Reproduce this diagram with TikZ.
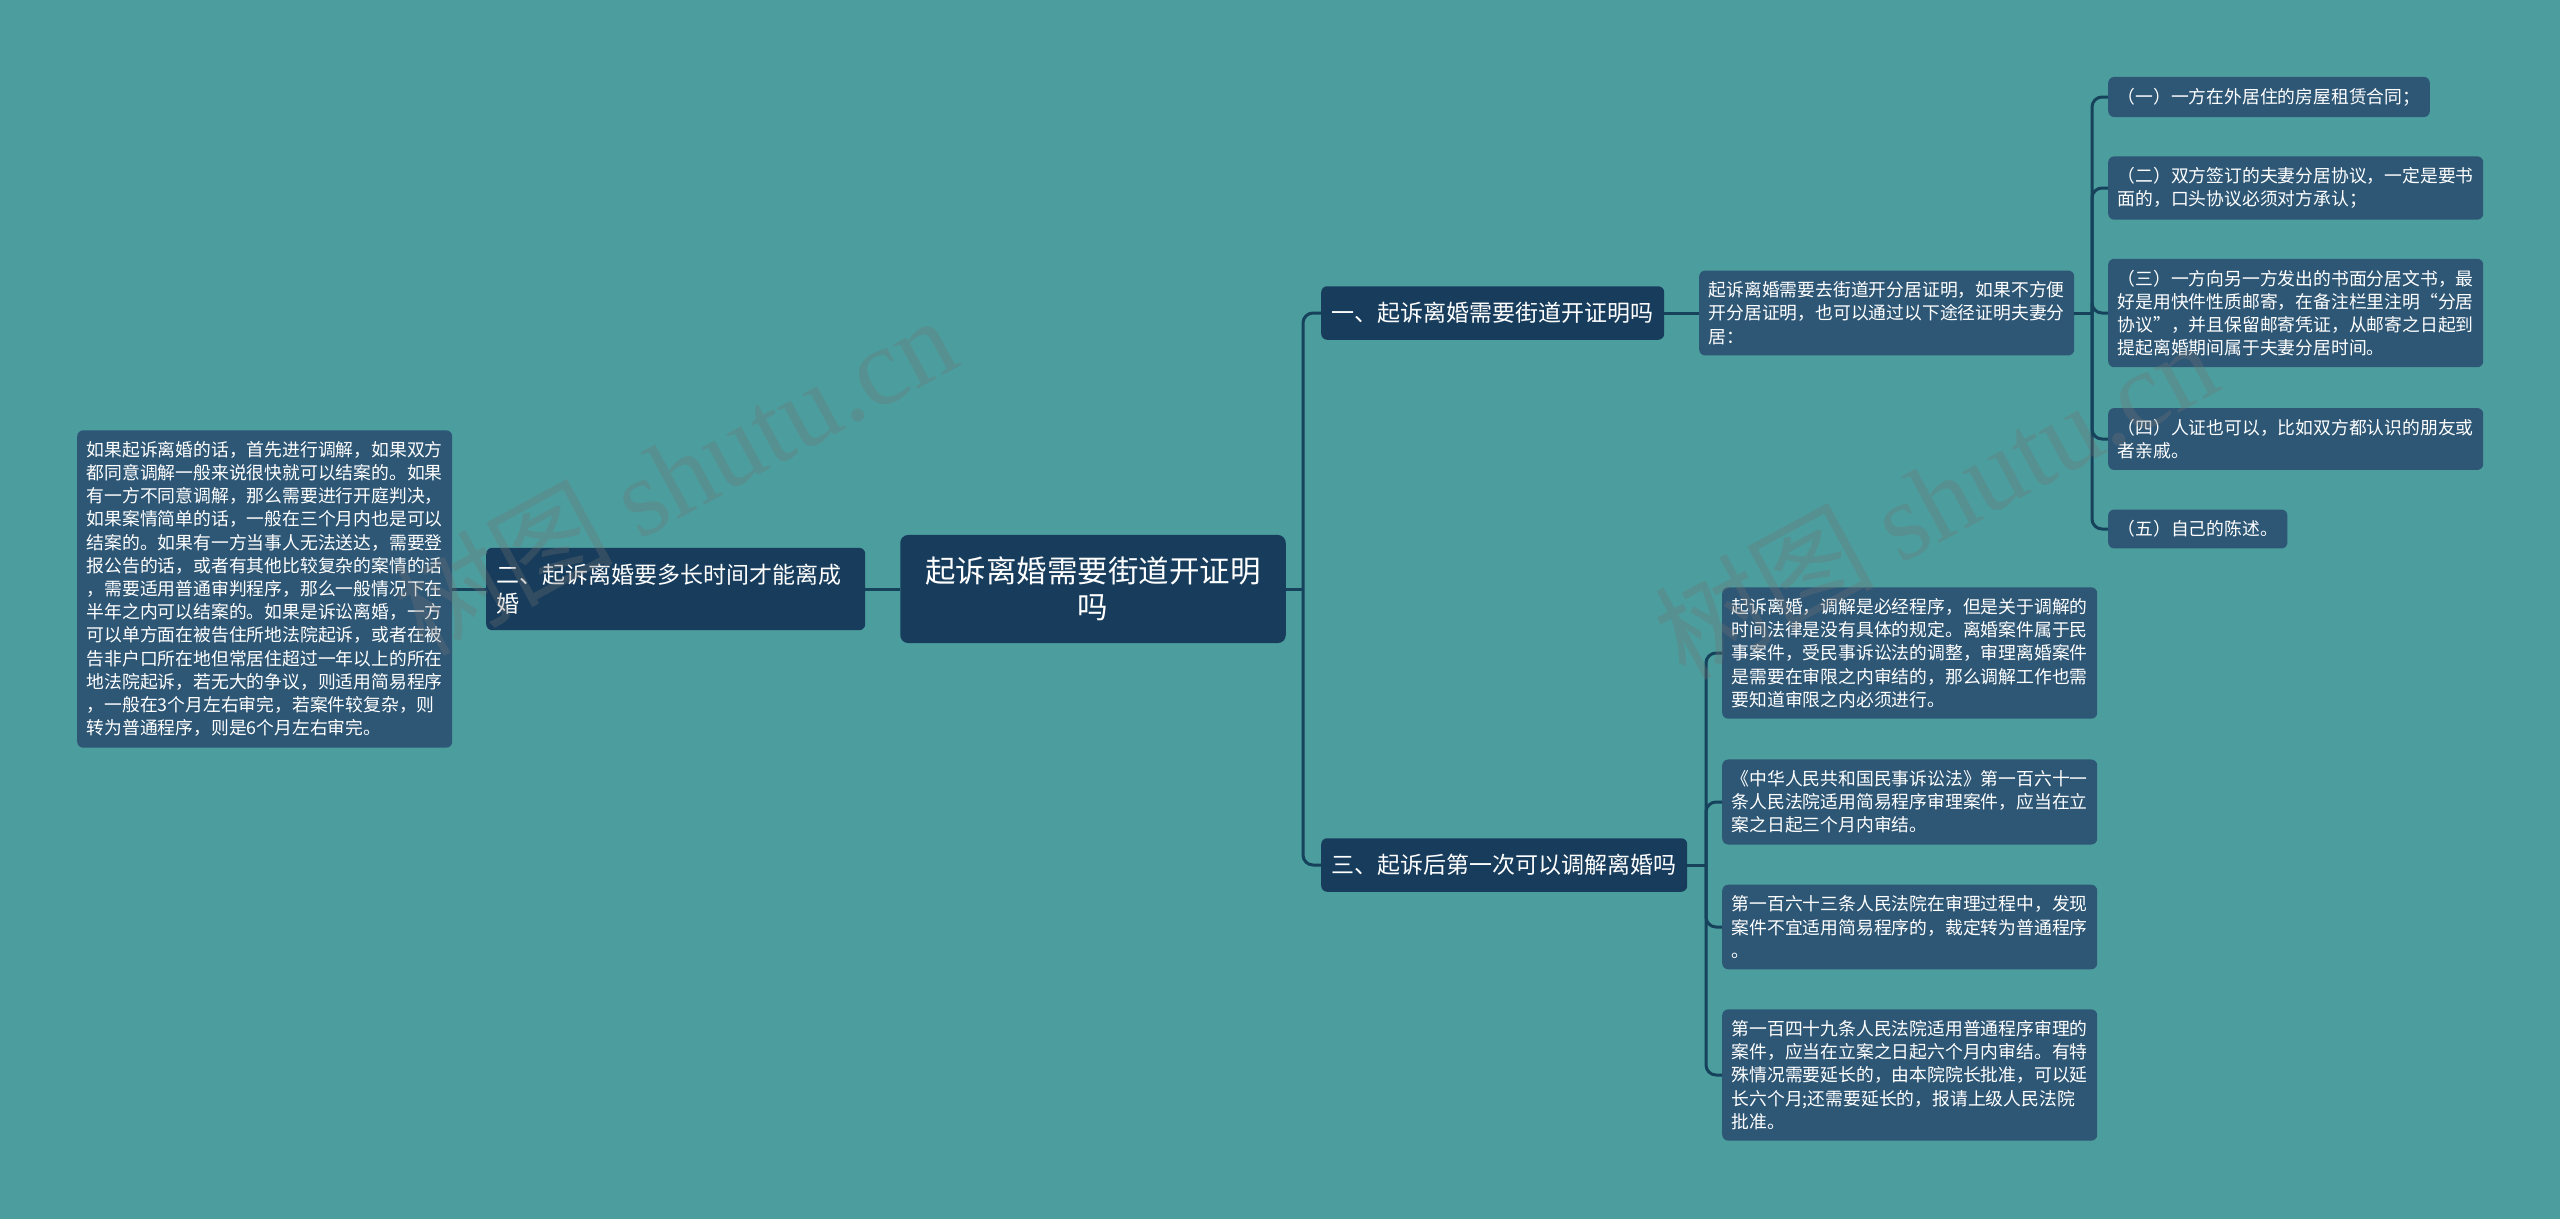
\documentclass[tikz,border=0pt]{standalone}
\usepackage{fontspec}
\setmainfont{Noto Sans CJK SC}
\newfontfamily\wmfont{Liberation Serif}
\definecolor{bgteal}{RGB}{76,157,158}
\definecolor{boxdark}{RGB}{23,60,92}
\definecolor{boxleaf}{RGB}{46,87,118}
\definecolor{linkdark}{RGB}{22,66,92}
\definecolor{wmgray}{RGB}{115,115,115}
\begin{document}
\begin{tikzpicture}[x=1pt,y=-1pt,
	rootbox/.style={fill=boxdark,rounded corners=8pt,text=white,align=center,
		font=\fontsize{30.5}{36}\selectfont,inner xsep=25pt,inner ysep=22pt},
	topicbox/.style={fill=boxdark,rounded corners=6pt,text=white,align=left,anchor=west,
		font=\fontsize{23}{29}\selectfont,inner xsep=10.5pt,inner ysep=16pt},
	leafbox/.style={fill=boxleaf,rounded corners=6pt,text=white,align=left,anchor=west,
		font=\fontsize{17.8}{23.2}\selectfont,inner xsep=9.5pt,inner ysep=11pt},
	link/.style={draw=linkdark,line width=3pt,rounded corners=10pt},
	wmark/.style={text=wmgray,opacity=0.3,font=\fontsize{110}{120}\selectfont,rotate=28.5}]
	\fill[bgteal] (0,0) rectangle (2560,1219);
	\useasboundingbox (0,0) rectangle (2560,1219);

	\node[rootbox] (R) at (1093,589) {起诉离婚需要街道开证明\\吗};

	\node[topicbox,text width=358pt] (B) at (486,589) {二、起诉离婚要多长时间才能离成\\婚};
	\node[leafbox] (B1) at (77,589) {如果起诉离婚的话，首先进行调解，如果双方\\都同意调解一般来说很快就可以结案的。如果\\有一方不同意调解，那么需要进行开庭判决，\\如果案情简单的话，一般在三个月内也是可以\\结案的。如果有一方当事人无法送达，需要登\\报公告的话，或者有其他比较复杂的案情的话\\，需要适用普通审判程序，那么一般情况下在\\半年之内可以结案的。如果是诉讼离婚，一方\\可以单方面在被告住所地法院起诉，或者在被\\告非户口所在地但常居住超过一年以上的所在\\地法院起诉，若无大的争议，则适用简易程序\\，一般在3个月左右审完，若案件较复杂，则\\转为普通程序，则是6个月左右审完。};

	\node[topicbox] (A) at (1321,313) {一、起诉离婚需要街道开证明吗};
	\node[leafbox] (A0) at (1699,313) {起诉离婚需要去街道开分居证明，如果不方便\\开分居证明，也可以通过以下途径证明夫妻分\\居：};
	\node[leafbox] (A1) at (2108,97) {（一）一方在外居住的房屋租赁合同；};
	\node[leafbox] (A2) at (2108,188) {（二）双方签订的夫妻分居协议，一定是要书\\面的，口头协议必须对方承认；};
	\node[leafbox] (A3) at (2108,313) {（三）一方向另一方发出的书面分居文书，最\\好是用快件性质邮寄，在备注栏里注明“分居\\协议”，并且保留邮寄凭证，从邮寄之日起到\\提起离婚期间属于夫妻分居时间。};
	\node[leafbox] (A4) at (2108,439) {（四）人证也可以，比如双方都认识的朋友或\\者亲戚。};
	\node[leafbox] (A5) at (2108,529) {（五）自己的陈述。};

	\node[topicbox] (C) at (1321,865) {三、起诉后第一次可以调解离婚吗};
	\node[leafbox] (C1) at (1722,653) {起诉离婚，调解是必经程序，但是关于调解的\\时间法律是没有具体的规定。离婚案件属于民\\事案件，受民事诉讼法的调整，审理离婚案件\\是需要在审限之内审结的，那么调解工作也需\\要知道审限之内必须进行。};
	\node[leafbox] (C2) at (1722,802) {《中华人民共和国民事诉讼法》第一百六十一\\条人民法院适用简易程序审理案件，应当在立\\案之日起三个月内审结。};
	\node[leafbox] (C3) at (1722,927) {第一百六十三条人民法院在审理过程中，发现\\案件不宜适用简易程序的，裁定转为普通程序\\。};
	\node[leafbox] (C4) at (1722,1075) {第一百四十九条人民法院适用普通程序审理的\\案件，应当在立案之日起六个月内审结。有特\\殊情况需要延长的，由本院院长批准，可以延\\长六个月;还需要延长的，报请上级人民法院\\批准。};

	\coordinate (SR) at (1303,589);
	\coordinate (SA) at (2092,313);
	\coordinate (SC) at (1706,865);

	\draw[link] (R.west) -- (B.east);
	\draw[link] (B.west) -- (B1.east);
	\draw[link] (R.east) -- (SR);
	\draw[link] (SR) |- (A.west);
	\draw[link] (SR) |- (C.west);
	\draw[link] (A.east) -- (A0.west);
	\draw[link] (A0.east) -- (SA);
	\draw[link] (SA) |- (A1.west);
	\draw[link] (SA) |- (A2.west);
	\draw[link] (SA) |- (A3.west);
	\draw[link] (SA) |- (A4.west);
	\draw[link] (SA) |- (A5.west);
	\draw[link] (C.east) -- (SC);
	\draw[link] (SC) |- (C1.west);
	\draw[link] (SC) |- (C2.west);
	\draw[link] (SC) |- (C3.west);
	\draw[link] (SC) |- (C4.west);

	\node[wmark] (W1) at (674,474) {树图 {\wmfont shutu.cn}};
	\node[wmark] (W2) at (1935,498) {树图 {\wmfont shutu.cn}};
\end{tikzpicture}
\end{document}
